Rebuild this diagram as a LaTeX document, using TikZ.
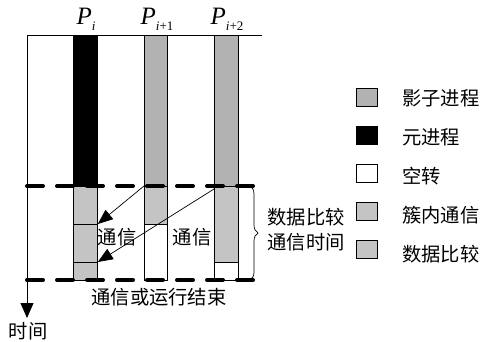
\documentclass[tikz,border=0pt]{standalone}
\usepackage{fontspec}
\setmainfont{Liberation Serif}
\newfontfamily\cjk{Noto Sans CJK SC}
\usetikzlibrary{arrows.meta,decorations.pathreplacing}
\newcommand\Plabel[1]{\fontsize{25}{25}\selectfont\textit{P}\raisebox{-6pt}{\fontsize{13}{13}\selectfont #1}}
\definecolor{shadow}{gray}{0.70}
\definecolor{hatch}{gray}{0.77}
\tikzset{
  cell/.style={draw=black, line width=0.8pt, inner sep=0pt, anchor=north west, minimum height=#1},
  colA/.style={minimum width=24pt},
  colB/.style={minimum width=23pt},
  cn/.style={font=\cjk\fontsize{19.3}{25}\selectfont, inner sep=0pt},
  legbox/.style={draw=black, line width=0.8pt, inner sep=0pt, minimum width=21pt, minimum height=18pt},
  boldash/.style={line width=4pt, line cap=round, dash pattern=on 16pt off 14pt},
  msgarrow/.style={line width=0.7pt, -{Triangle[length=15pt,width=12pt]}}
}
\begin{document}
\begin{tikzpicture}[x=1pt,y=-1pt]
\useasboundingbox (0,0) rectangle (485,342);
% columns
\node[cell=151pt, colA, fill=black] (c1top) at (73,35) {};
\node[cell=38pt, colA, fill=hatch] (c1a) at (73,186) {};
\node[cell=38pt, colA, fill=hatch] (c1b) at (73,224) {};
\node[cell=18pt, colA, fill=hatch] (c1c) at (73,262) {};
\node[cell=151pt, colB, fill=shadow] (c2top) at (144,35) {};
\node[cell=38pt, colB, fill=hatch] (c2a) at (144,186) {};
\node[cell=56pt, colB, fill=white] (c2b) at (144,224) {};
\node[cell=151pt, colA, fill=shadow] (c3top) at (214,35) {};
\node[cell=76pt, colA, fill=hatch] (c3a) at (214,186) {};
\node[cell=18pt, colA, fill=white] (c3b) at (214,262) {};
% axes
\coordinate (tl) at (27,35);
\coordinate (tr) at (262,35);
\coordinate (bl) at (27,318);
\draw[line width=0.8pt] (tl) -- (tr);
\draw[line width=0.8pt, -{Triangle[length=15pt,width=13pt]}] (tl) -- (bl);
% dashed lines
\coordinate (d1l) at (27,186);
\coordinate (d1r) at (253,186);
\coordinate (d2l) at (27,280);
\coordinate (d2r) at (253,280);
\draw[boldash] (d1l) -- (d1r);
\draw[boldash] (d2l) -- (d2r);
% message arrows
\draw[msgarrow] (c2a.north west) -- (c1b.north east);
\draw[msgarrow] ([yshift=-3pt]c3a.north west) -- (c1c.north east);
% brace
\coordinate (bt) at (250,186);
\coordinate (bb) at (250,280);
\draw[line width=0.7pt, decorate, decoration={brace, amplitude=8pt}] (bt) -- (bb);
% labels
\node (lp1) at (86,19) {\Plabel{\textit{i}}};
\node (lp2) at (157,19) {\Plabel{\textit{i}+1}};
\node (lp3) at (227,19) {\Plabel{\textit{i}+2}};
\node[cn] (tx1) at (117,237) {通信};
\node[cn] (tx2) at (192,237) {通信};
\node[cn] (tx3) at (159,297) {通信或运行结束};
\node[cn] (tx4) at (28,331) {时间};
\node[cn, align=center] (tx5) at (306,230) {数据比较\\通信时间};
% legend
\node[legbox, fill=shadow] (g1) at (367,97) {};
\node[legbox, fill=black] (g2) at (367,135) {};
\node[legbox, fill=white] (g3) at (367,173) {};
\node[legbox, fill=hatch] (g4) at (367,211) {};
\node[legbox, fill=hatch] (g5) at (367,249) {};
\node[cn, anchor=west] (l1) at (402,98) {影子进程};
\node[cn, anchor=west] (l2) at (402,137) {元进程};
\node[cn, anchor=west] (l3) at (402,176) {空转};
\node[cn, anchor=west] (l4) at (402,215) {簇内通信};
\node[cn, anchor=west] (l5) at (402,254) {数据比较};
\end{tikzpicture}
\end{document}
